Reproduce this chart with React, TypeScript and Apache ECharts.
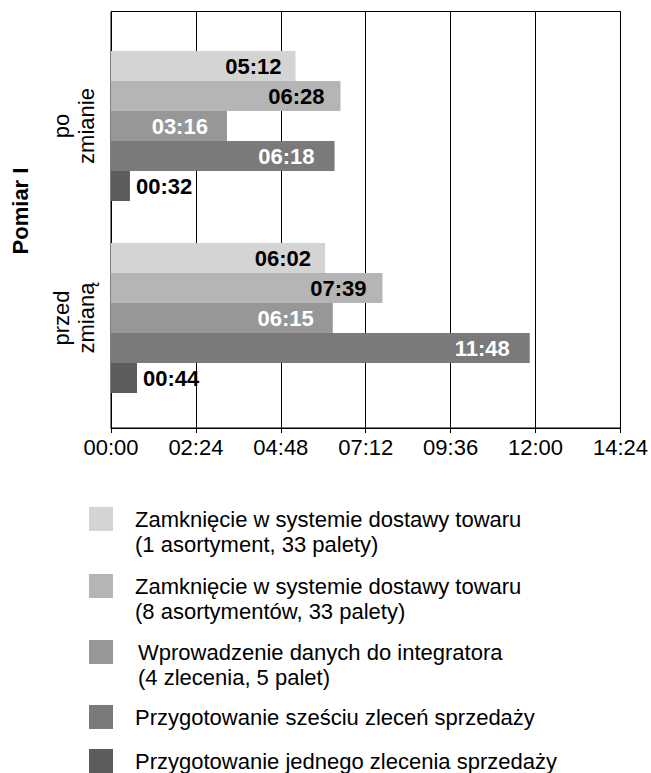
import React, { useEffect, useRef } from "react";
import * as echarts from "echarts";

// Durations in seconds (mm:ss), one value per category: [przed zmianą, po zmianie]
const categories = ["przed zmianą", "po zmianie"];
const seriesNames = [
  "Zamknięcie w systemie dostawy towaru\n(1 asortyment, 33 palety)",
  "Zamknięcie w systemie dostawy towaru\n(8 asortymentów, 33 palety)",
  "Wprowadzenie danych do integratora\n(4 zlecenia, 5 palet)",
  "Przygotowanie sześciu zleceń sprzedaży",
  "Przygotowanie jednego zlecenia sprzedaży",
];
const closingOneAssortment = [362, 312]; // 06:02, 05:12
const closingEightAssortments = [459, 388]; // 07:39, 06:28
const integratorEntry = [375, 196]; // 06:15, 03:16
const sixSalesOrders = [708, 378]; // 11:48, 06:18
const oneSalesOrder = [44, 32]; // 00:44, 00:32
const axisMax = 864; // 14:24
const axisStep = 144; // 02:24
const groupTitle = "Pomiar I";

const seriesColors = ["#d4d4d4", "#b5b5b5", "#979797", "#7a7a7a", "#5c5c5c"];
const labelColors = ["#000", "#000", "#fff", "#fff", "#000"];
const labelDistances = [14, 16, 19, 20, 6];
const FONT = "'Liberation Sans', Arial, sans-serif";

const pad2 = (n: number) => String(n).padStart(2, "0");
const mmss = (v: number) => `${pad2(Math.floor(v / 60))}:${pad2(Math.round(v % 60))}`;

export default function App() {
  const ref = useRef<HTMLDivElement>(null);

  useEffect(() => {
    if (!ref.current) return;
    const chart = echarts.init(ref.current, undefined, { renderer: "svg" });
    const values = [
      closingOneAssortment,
      closingEightAssortments,
      integratorEntry,
      sixSalesOrders,
      oneSalesOrder,
    ];

    const series = values.map((data, i) => ({
      type: "bar",
      name: seriesNames[i],
      xAxisIndex: 1,
      yAxisIndex: 1,
      barWidth: 30,
      barGap: "0%",
      data,
      itemStyle: { color: seriesColors[i] },
      label: {
        show: true,
        position: i === 4 ? "right" : "insideRight",
        distance: labelDistances[i],
        color: labelColors[i],
        fontFamily: FONT,
        fontWeight: "bold",
        fontSize: 22,
        formatter: (p: any) => mmss(p.value),
      },
    }));

    // one legend per entry so each row sits at its own height;
    // two-line entries get a leading line break so the swatch lines up with their first line
    const legendTops = [481.5, 548.5, 614.5, 704.5, 748.5];
    const legends = seriesNames.map((name, i) => {
      const twoLines = name.includes("\n");
      return {
        orient: "vertical",
        left: 89,
        top: legendTops[i],
        padding: 0,
        itemWidth: 24,
        itemHeight: 24,
        icon: "rect",
        selectedMode: false,
        data: [name],
        formatter: (n: string) => (twoLines ? "\n" + n : n),
        textStyle: {
          fontFamily: FONT,
          fontSize: 22,
          lineHeight: 25,
          color: "#000",
          padding: [0, 0, 0, i === 2 ? 20 : 17],
        },
      };
    });

    chart.setOption({
      animation: false,
      backgroundColor: "#fff",
      grid: [
        {
          // frame with the time axis and vertical lines
          left: 111,
          top: 11.5,
          width: 511,
          height: 416.5,
          show: true,
          borderColor: "#000",
          borderWidth: 1,
          backgroundColor: "transparent",
        },
        {
          // bars
          left: 111,
          top: 30,
          width: 511,
          height: 384,
        },
      ],
      xAxis: [
        {
          gridIndex: 0,
          type: "value",
          min: 0,
          max: axisMax,
          interval: axisStep,
          axisLine: { show: true, lineStyle: { color: "#000", width: 1 } },
          axisTick: { show: true, length: 5, lineStyle: { color: "#000" } },
          splitLine: { show: true, lineStyle: { color: "#000", width: 1 } },
          axisLabel: {
            fontFamily: FONT,
            fontSize: 22,
            color: "#000",
            margin: 8,
            formatter: (v: number) => mmss(v),
          },
        },
        { gridIndex: 1, type: "value", min: 0, max: axisMax, show: false },
      ],
      yAxis: [
        { gridIndex: 0, type: "value", show: false },
        {
          gridIndex: 1,
          type: "category",
          data: categories,
          axisLine: { show: false },
          axisTick: { show: false },
          splitLine: { show: false },
          axisLabel: {
            rotate: 90,
            margin: 12,
            fontFamily: FONT,
            fontSize: 22,
            lineHeight: 25,
            color: "#000",
            formatter: (v: string) => v.replace(" ", "\n"),
          },
        },
      ],
      legend: legends,
      graphic: [
        {
          type: "text",
          x: 20,
          y: 211,
          rotation: Math.PI / 2,
          style: {
            text: groupTitle,
            fontFamily: FONT,
            fontSize: 22,
            fontWeight: "bold",
            fill: "#000",
            align: "center",
            verticalAlign: "middle",
          },
        },
      ],
      series,
    });

    return () => chart.dispose();
  }, []);

  return (
    <div
      ref={ref}
      style={{ position: "fixed", left: 0, top: 0, width: 651, height: 773 }}
    />
  );
}
